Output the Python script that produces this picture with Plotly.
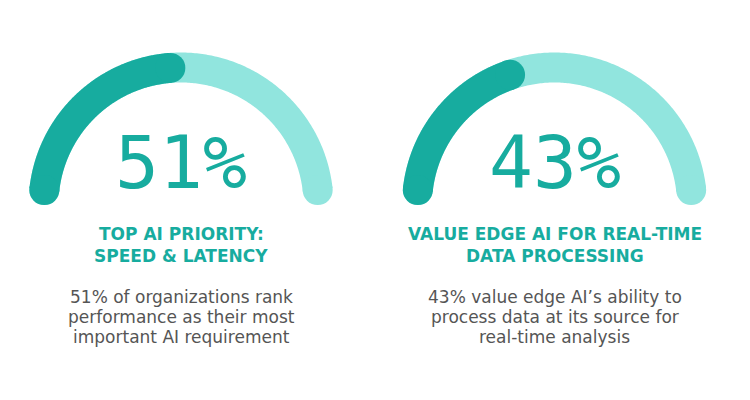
import numpy as np
import plotly.graph_objects as go

# ---- data ----
values = [51, 43]
value_labels = ["51%", "43%"]
titles = [["TOP AI PRIORITY:", "SPEED & LATENCY"],
          ["VALUE EDGE AI FOR REAL-TIME", "DATA PROCESSING"]]
descriptions = [["51% of organizations rank", "performance as their most", "important AI requirement"],
                ["43% value edge AI\u2019s ability to", "process data at its source for", "real-time analysis"]]

# ---- style ----
DARK = "#17AC9F"
LIGHT = "#91E5DE"
GRAY = "#555555"
W, H = 750, 400
centers_x = [181, 554.5]
center_y = 205
R = 137.5
STROKE = 30
cap_deg = np.degrees((STROKE / 2) / R)

fig = go.Figure()


def arc_trace(cx, a_start, a_end, color):
    th = np.radians(np.linspace(a_start, a_end, 240))
    xs = cx + R * np.cos(th)
    ys = center_y - R * np.sin(th)
    fig.add_trace(go.Scatter(x=xs, y=ys, mode="lines",
                             line=dict(color=color, width=STROKE, simplify=False),
                             hoverinfo="skip", showlegend=False))
    fig.add_trace(go.Scatter(x=[xs[0], xs[-1]], y=[ys[0], ys[-1]], mode="markers",
                             marker=dict(color=color, size=STROKE, line=dict(width=0)),
                             hoverinfo="skip", showlegend=False))


for i, v in enumerate(values):
    cx = centers_x[i]
    start = 180 - cap_deg
    arc_trace(cx, start, cap_deg, LIGHT)
    end_angle = 180 - 180 * v / 100 + cap_deg
    arc_trace(cx, start, end_angle, DARK)

    fig.add_annotation(x=cx, y=162, xref="x", yref="y", text=value_labels[i],
                       showarrow=False, xanchor="center", yanchor="middle",
                       font=dict(family="DejaVu Sans Mono", size=73, color=DARK))
    for j, t in enumerate(titles[i]):
        fig.add_annotation(x=cx, y=234 + 22 * j, xref="x", yref="y", text=t,
                           showarrow=False, xanchor="center", yanchor="middle",
                           font=dict(family="DejaVu Sans", size=17, color=DARK, weight="bold"))
    for j, t in enumerate(descriptions[i]):
        fig.add_annotation(x=cx, y=297 + 20 * j, xref="x", yref="y", text=t,
                           showarrow=False, xanchor="center", yanchor="middle",
                           font=dict(family="DejaVu Sans", size=17, color=GRAY))

fig.update_xaxes(range=[0, W], visible=False, fixedrange=True)
fig.update_yaxes(range=[H, 0], visible=False, fixedrange=True)
fig.update_layout(width=W, height=H, autosize=False,
                  margin=dict(l=0, r=0, t=0, b=0),
                  paper_bgcolor="white", plot_bgcolor="white")

fig.write_html("out.html", config={"displayModeBar": False},
               post_script="document.body.style.margin='0';document.body.style.padding='0';")
